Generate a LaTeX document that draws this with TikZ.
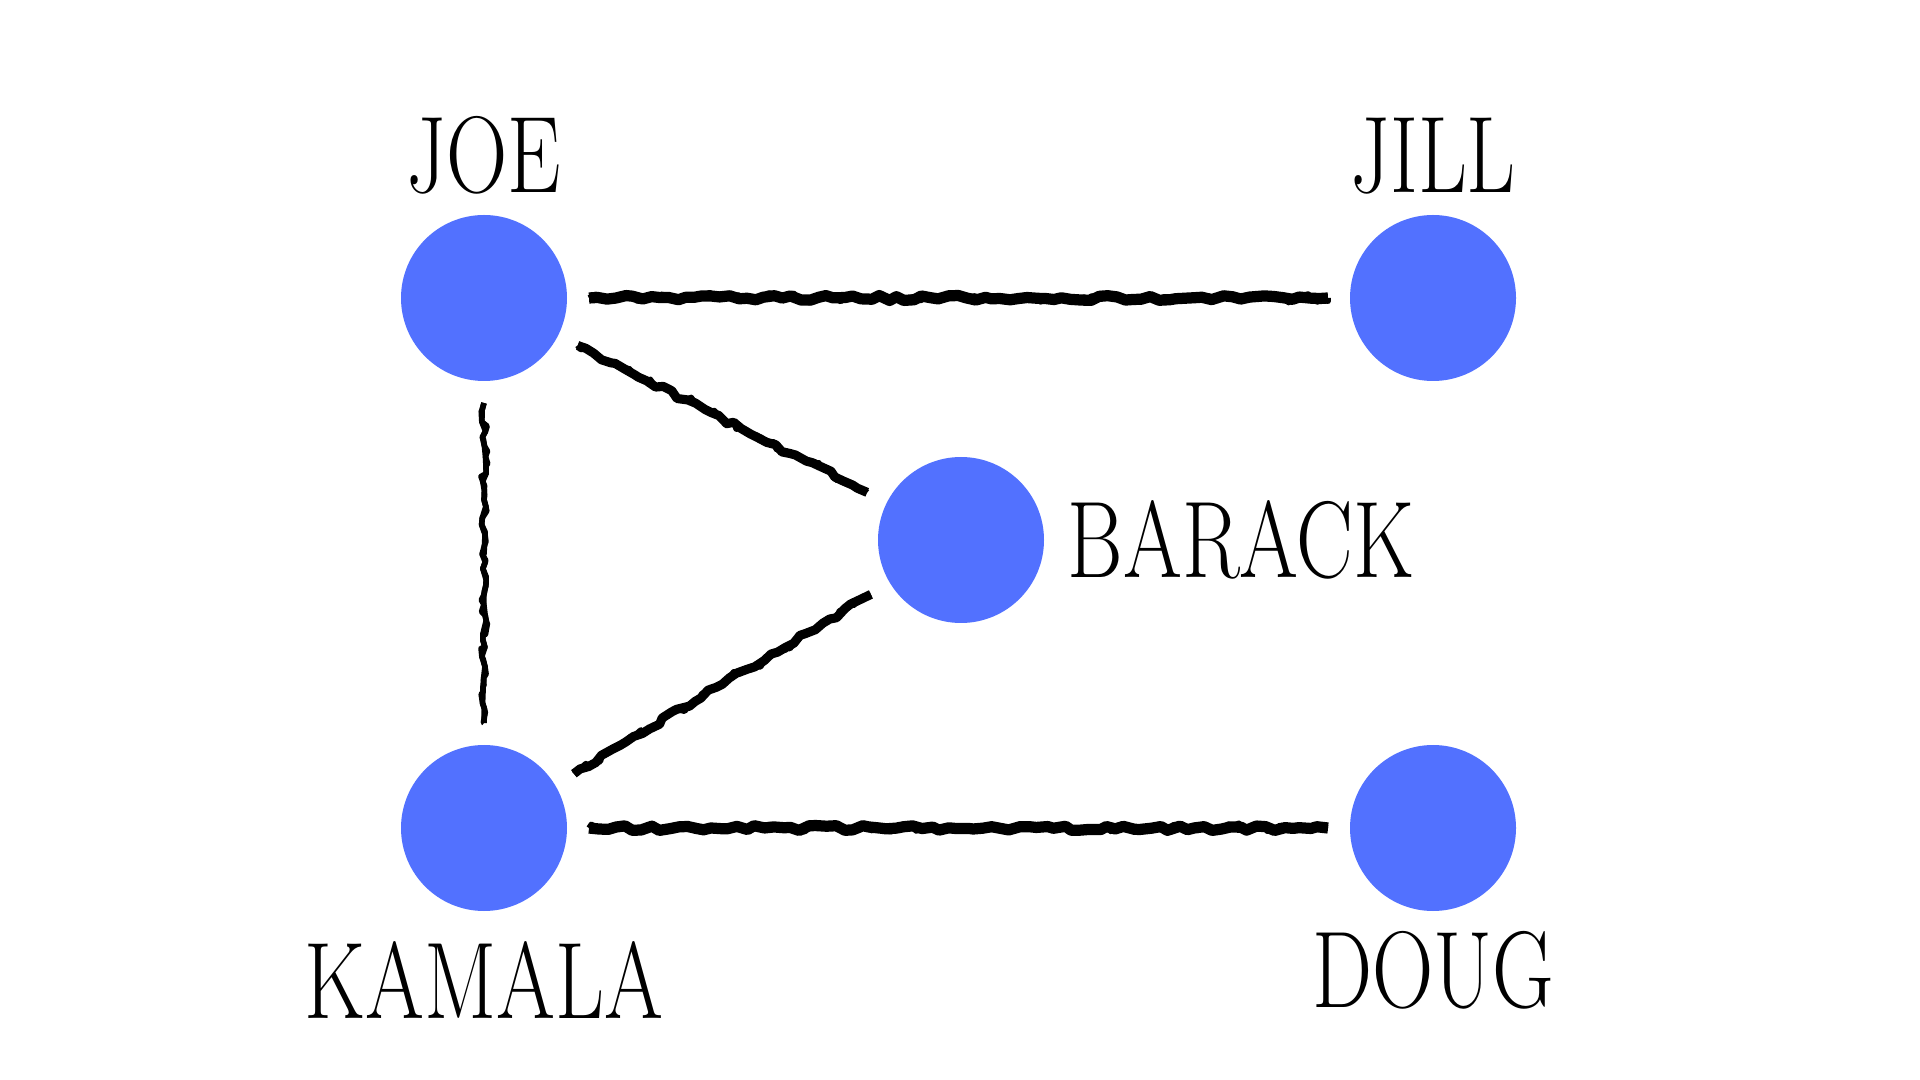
\documentclass[tikz,border=0pt]{standalone}
\usetikzlibrary{shapes,positioning,decorations.pathmorphing}
\definecolor{dotblue}{RGB}{82,113,255}
\tikzstyle{person} = [circle, fill=dotblue, minimum size=1.66cm,
    inner sep=0pt, outer sep=0.22cm]
\tikzstyle{tag} = [inner sep=0pt, font=\fontsize{31}{36}\selectfont]
\tikzstyle{brush} = [line width=3.2pt, line join=round, decorate,
    decoration={random steps, segment length=2.5pt, amplitude=0.7pt},
    preaction={draw, line width=1.6pt, line join=round, decorate,
      decoration={random steps, segment length=1.5pt, amplitude=1.1pt}}]
\newcommand{\narrow}[1]{\scalebox{0.78}[1]{#1}}

\begin{document}
\begin{tikzpicture}[node distance = 3cm]
  \pgfmathsetseed{7}
  \useasboundingbox (-4.84,-7.82) rectangle (14.36,2.98);
  \node [person] (joe) {};
  \node [person, right of=joe, node distance = 9.49cm] (jill) {};
  \node [person, below of=joe, node distance = 5.30cm] (kamala) {};
  \node [person, below of=jill, node distance = 5.30cm] (doug) {};
  \node [person] at (4.77,-2.42) (barack) {};
  \node [tag, above=-0.02cm of joe] (joetag) {\narrow{JOE}};
  \node [tag, above=-0.02cm of jill] (jilltag) {\narrow{JILL}};
  \node [tag, below=0.08cm of kamala] (kamalatag) {\narrow{KAMALA}};
  \node [tag, below=-0.02cm of doug] (dougtag) {\narrow{DOUG}};
  \node [tag, right=0.01cm of barack] (baracktag) {\narrow{BARACK}};
  \draw [brush] (joe) -- (jill);
  \draw [brush, line width=2.6pt] (joe) -- (barack);
  \draw [brush, line width=1.6pt] (joe) -- (kamala);
  \draw [brush, line width=2.6pt] (kamala) -- (barack);
  \draw [brush] (kamala) -- (doug);
\end{tikzpicture}
\end{document}
